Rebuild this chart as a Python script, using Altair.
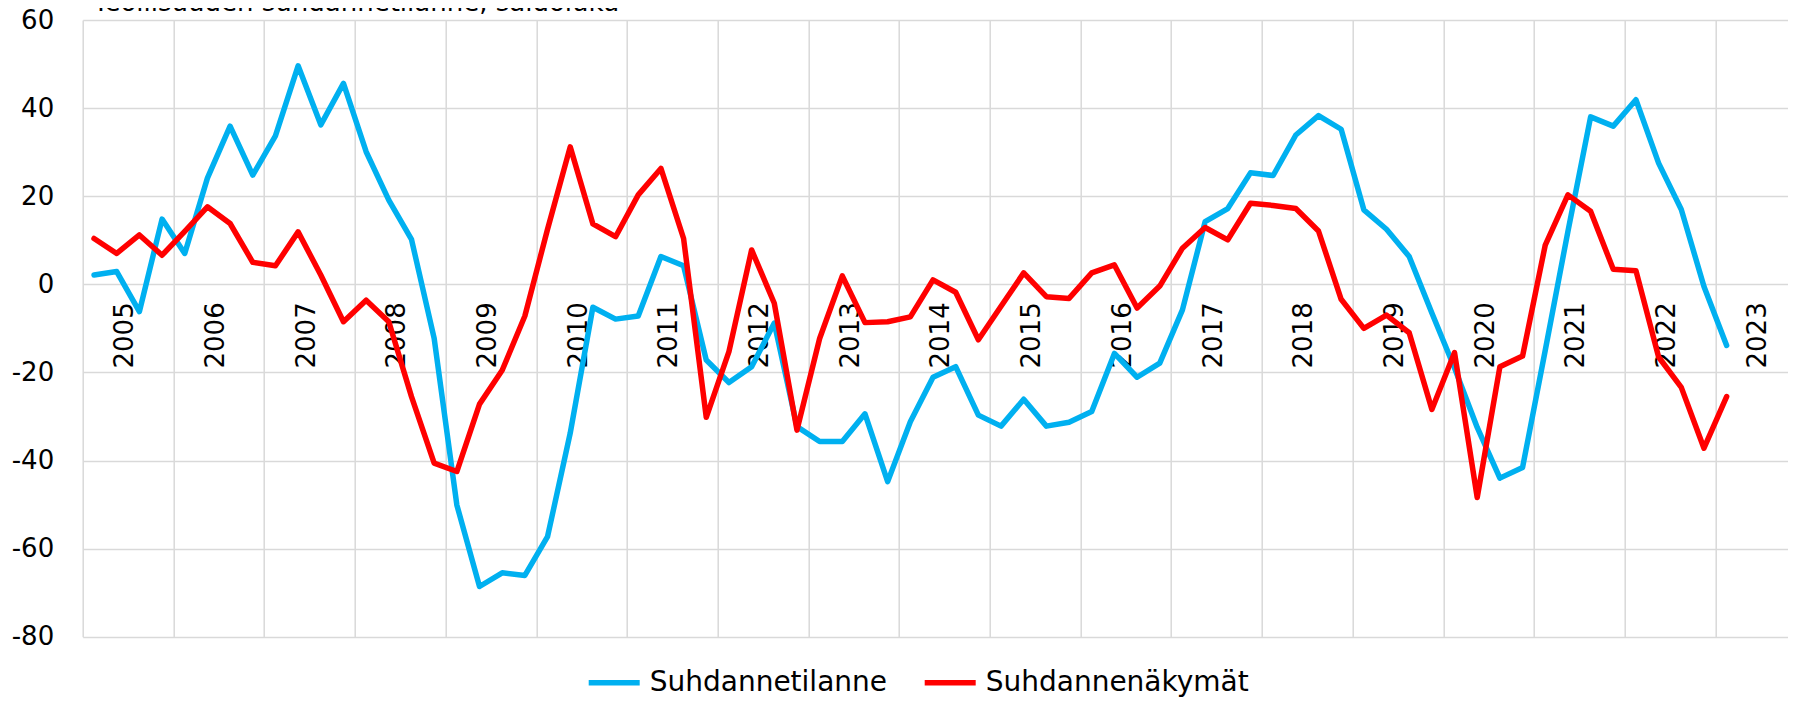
import altair as alt
import pandas as pd

# Quarterly data 2005Q1 .. 2023Q1 (73 quarters)
suhdannetilanne = [
    2.1, 2.9, -6.2, 14.8, 7.0, 24.1, 35.9, 24.8, 33.7, 49.6, 36.2, 45.6,
    30.1, 19.1, 10.2, -12.3, -50.1, -68.6, -65.5, -66.1, -57.3, -33.8, -5.2, -7.9,
    -7.2, 6.3, 4.2, -17.2, -22.3, -18.7, -8.8, -32.3, -35.7, -35.7, -29.4, -44.8,
    -31.2, -21.1, -18.7, -29.7, -32.2, -26.1, -32.2, -31.3, -28.9, -15.7, -21.1, -17.9,
    -5.8, 14.2, 17.2, 25.3, 24.7, 33.9, 38.3, 35.2, 16.9, 12.5, 6.3, -6.5,
    -19.0, -32.5, -44.0, -41.6, -15.0, 12.0, 38.0, 35.9, 41.9, 27.5, 17.0, -0.5,
    -13.9,
]
suhdannenakymat = [
    10.4, 7.0, 11.2, 6.6, 12.0, 17.6, 13.8, 5.0, 4.2, 11.9, 2.1, -8.5,
    -3.6, -8.5, -25.5, -40.6, -42.5, -27.2, -19.5, -7.2, 12.5, 31.2, 13.7, 10.8,
    20.3, 26.3, 10.4, -30.2, -15.3, 7.8, -4.3, -33.1, -12.3, 1.9, -8.7, -8.5,
    -7.4, 1.0, -1.8, -12.6, -5.0, 2.6, -2.8, -3.2, 2.6, 4.4, -5.4, -0.4,
    8.2, 12.9, 10.1, 18.4, 17.9, 17.2, 12.1, -3.4, -10.0, -7.0, -11.0, -28.4,
    -15.5, -48.4, -18.7, -16.3, 8.9, 20.3, 16.6, 3.4, 3.1, -16.5, -23.4, -37.2,
    -25.5,
]
series_names = ["Suhdannetilanne", "Suhdannenäkymät"]
series_colors = ["#00B0F0", "#FF0000"]
years = [str(y) for y in range(2005, 2024)]
title_text = "Teollisuuden suhdannetilanne, saldoluku"
y_ticks = [-80, -60, -40, -20, 0, 20, 40, 60]

rows = []
for i, v in enumerate(suhdannetilanne):
    rows.append({"idx": i, "value": v, "series": series_names[0]})
for i, v in enumerate(suhdannenakymat):
    rows.append({"idx": i, "value": v, "series": series_names[1]})
df = pd.DataFrame(rows)

year_df = pd.DataFrame({"year": years,
                        "pos": [4 * k + 1.37 for k in range(len(years))],
                        "zero": [0] * len(years)})
title_df = pd.DataFrame({"t": [title_text]})

W = 1705.3
H = 616.7
PX_PER_Q = 22.675
x_max = -0.5 + W / PX_PER_Q
grid_vals = [-0.5 + 4 * k for k in range(19)]

FONT = "DejaVu Sans"

x_scale = alt.Scale(domain=[-0.5, x_max], nice=False, zero=False)
y_scale = alt.Scale(domain=[-80, 60], nice=False)

x_axis = alt.Axis(values=grid_vals, grid=True, labels=False, ticks=False,
                  domain=False, title=None, gridColor="#D9D9D9", gridWidth=1.5)
y_axis = alt.Axis(values=y_ticks, grid=True, ticks=False, domain=False,
                  title=None, gridColor="#D9D9D9", gridWidth=1.5,
                  labelFontSize=26, labelFont=FONT, labelColor="#000000",
                  labelPadding=29, labelExpr="'' + datum.value")

year_labels = alt.Chart(year_df).mark_text(
    angle=270, align="right", baseline="middle", dx=-18,
    fontSize=26, font=FONT, color="#000000"
).encode(
    x=alt.X("pos:Q", scale=x_scale, axis=x_axis),
    y=alt.Y("zero:Q", scale=y_scale, axis=y_axis),
    text="year:N",
)

lines = alt.Chart(df).mark_line(
    strokeWidth=5.5, strokeJoin="round", strokeCap="round"
).encode(
    x=alt.X("idx:Q", scale=x_scale, axis=x_axis),
    y=alt.Y("value:Q", scale=y_scale, axis=y_axis),
    color=alt.Color(
        "series:N",
        scale=alt.Scale(domain=series_names, range=series_colors),
        sort=series_names,
        legend=alt.Legend(
            title=None, orient="none", legendX=503, legendY=634,
            direction="horizontal", symbolType="stroke",
            symbolStrokeWidth=5.5, symbolSize=2601, labelFontSize=28,
            labelFont=FONT, labelColor="#000000", labelOffset=7,
            columnPadding=26, labelLimit=600, padding=0,
        ),
    ),
)

title = alt.Chart(title_df).mark_text(
    align="left", baseline="alphabetic", fontSize=26, font=FONT, color="#000000"
).encode(
    x=alt.value(10.3), y=alt.value(-9), text="t:N"
)

chart = alt.layer(year_labels, lines, title).properties(
    width=W, height=H,
    autosize=alt.AutoSizeParams(type="none"),
    padding={"left": 74.7, "top": 12, "right": 0, "bottom": 61.3},
).configure_view(strokeWidth=0)

chart.save("out.html", embed_options={"renderer": "svg", "actions": False})
